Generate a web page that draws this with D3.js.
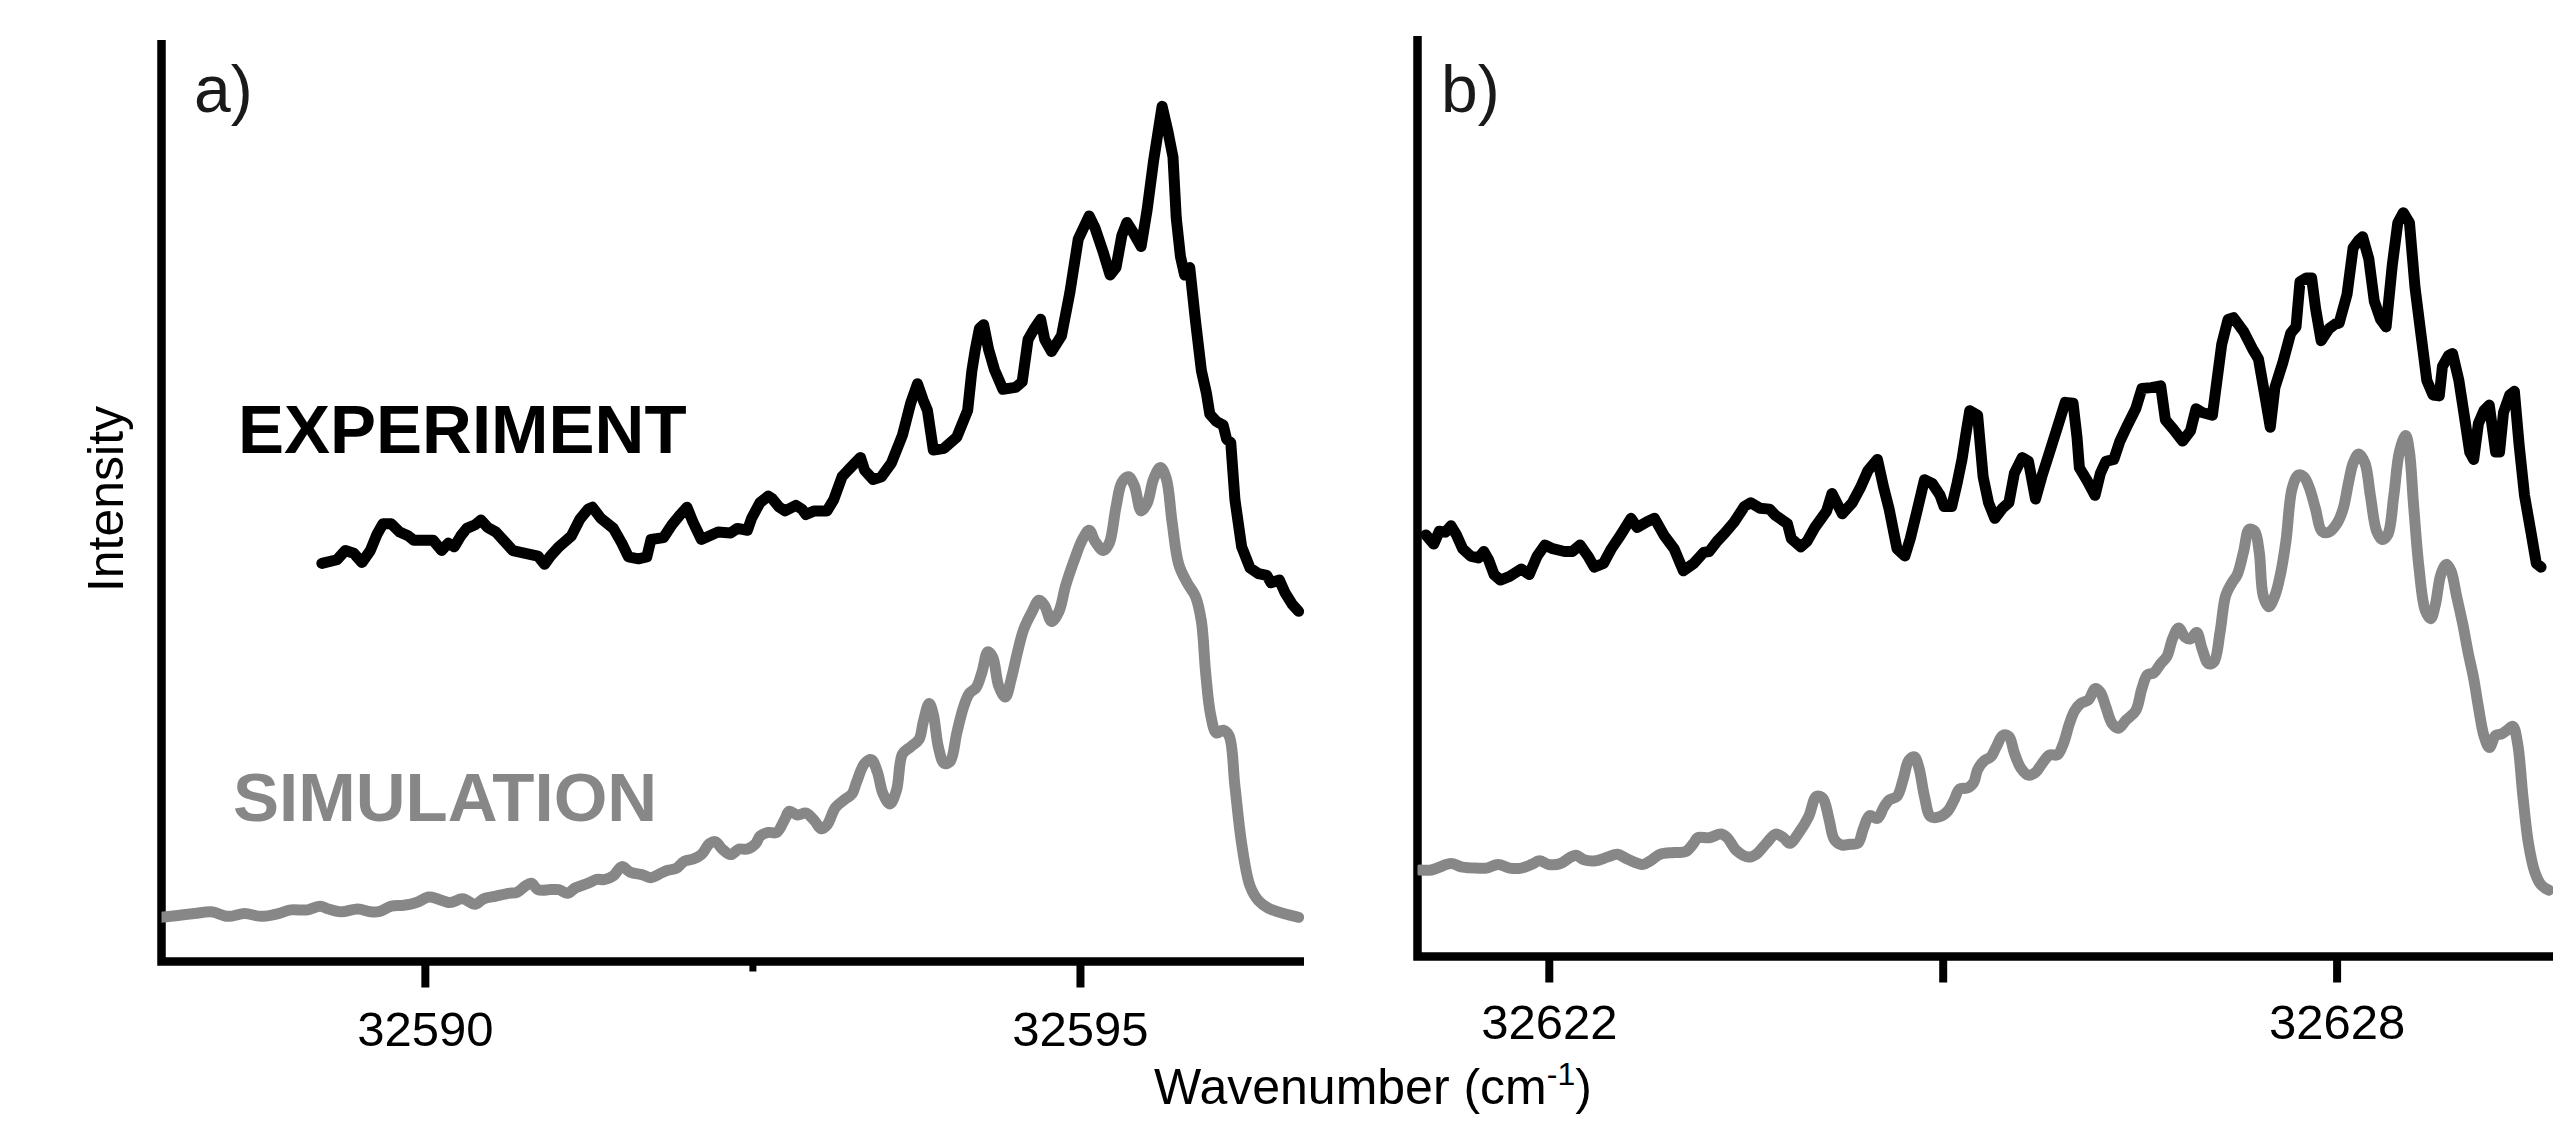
<!DOCTYPE html>
<html><head><meta charset="utf-8">
<script src="https://cdn.jsdelivr.net/npm/d3@7"></script>
<style>html,body{margin:0;padding:0;background:#fff;overflow:hidden}</style>
</head><body><svg id="c" width="2553" height="1121" style="background:#fff"></svg>
<script>
// ---- data: [wavenumber (cm-1), intensity (arb. units)] ----
const expA=[[32589.214,43.2],[32589.329,43.6],[32589.393,44.6],[32589.457,44.3],[32589.520,43.3],[32589.584,44.6],[32589.636,46.4],[32589.680,47.5],[32589.744,47.5],[32589.808,46.6],[32589.872,46.2],[32589.917,45.7],[32590.000,45.7],[32590.064,45.7],[32590.128,44.6],[32590.179,45.4],[32590.224,45.0],[32590.275,46.2],[32590.320,47.0],[32590.384,47.4],[32590.428,47.9],[32590.480,47.1],[32590.543,46.6],[32590.607,45.6],[32590.671,44.6],[32590.767,44.3],[32590.863,44.0],[32590.914,43.1],[32590.959,44.0],[32591.023,45.0],[32591.119,46.2],[32591.183,48.0],[32591.247,49.1],[32591.279,49.3],[32591.343,48.1],[32591.439,47.0],[32591.503,45.4],[32591.554,43.9],[32591.630,43.7],[32591.694,43.9],[32591.726,45.8],[32591.822,46.0],[32591.886,47.4],[32591.950,48.5],[32592.001,49.3],[32592.046,47.7],[32592.110,45.8],[32592.174,46.2],[32592.238,46.6],[32592.334,46.5],[32592.385,47.0],[32592.462,46.8],[32592.494,48.1],[32592.558,49.8],[32592.621,50.5],[32592.653,50.2],[32592.705,49.3],[32592.749,48.9],[32592.832,49.5],[32592.877,49.1],[32592.909,48.5],[32592.973,48.9],[32593.069,48.9],[32593.120,50.1],[32593.184,52.6],[32593.229,53.3],[32593.325,54.7],[32593.357,53.3],[32593.421,52.3],[32593.485,52.6],[32593.561,54.1],[32593.645,57.1],[32593.708,60.6],[32593.760,62.7],[32593.804,60.9],[32593.836,59.8],[32593.881,55.5],[32593.964,55.7],[32594.060,56.9],[32594.143,59.8],[32594.175,64.1],[32594.201,66.4],[32594.233,68.7],[32594.265,69.1],[32594.303,66.4],[32594.348,64.2],[32594.412,62.1],[32594.508,62.3],[32594.559,62.9],[32594.604,67.5],[32594.648,68.6],[32594.700,69.7],[32594.731,67.5],[32594.783,66.2],[32594.859,67.9],[32594.923,72.6],[32594.987,78.4],[32595.070,80.9],[32595.115,79.6],[32595.179,76.9],[32595.230,74.5],[32595.275,75.3],[32595.320,78.8],[32595.358,80.2],[32595.403,79.2],[32595.467,77.6],[32595.512,81.5],[32595.563,87.0],[32595.627,92.8],[32595.671,90.1],[32595.710,87.3],[32595.735,80.7],[32595.767,76.5],[32595.799,74.5],[32595.838,75.3],[32595.882,69.5],[32595.927,64.1],[32595.965,61.7],[32595.991,59.4],[32596.042,58.6],[32596.093,58.2],[32596.119,56.7],[32596.151,56.3],[32596.183,50.1],[32596.234,45.0],[32596.298,42.7],[32596.362,42.1],[32596.426,41.9],[32596.458,41.1],[32596.522,41.4],[32596.566,40.0],[32596.618,38.8],[32596.669,38.0]];
const simA=[[32587.986,4.8],[32588.114,5.0],[32588.242,5.2],[32588.370,5.4],[32588.497,4.9],[32588.625,5.2],[32588.753,4.9],[32588.881,5.2],[32588.977,5.6],[32589.105,5.6],[32589.201,6.0],[32589.265,5.7],[32589.361,5.4],[32589.488,5.7],[32589.584,5.4],[32589.648,5.4],[32589.744,6.0],[32589.840,6.1],[32589.936,6.4],[32590.032,7.0],[32590.096,6.8],[32590.192,6.4],[32590.288,6.8],[32590.384,6.2],[32590.448,6.8],[32590.543,7.1],[32590.639,7.4],[32590.703,7.5],[32590.767,8.2],[32590.812,8.5],[32590.863,7.8],[32590.959,7.8],[32591.023,7.8],[32591.087,7.4],[32591.151,8.0],[32591.247,8.5],[32591.311,8.9],[32591.375,8.9],[32591.439,9.3],[32591.503,10.3],[32591.567,9.7],[32591.662,9.4],[32591.726,9.1],[32591.790,9.5],[32591.854,9.9],[32591.918,10.1],[32591.982,10.9],[32592.046,11.1],[32592.110,11.6],[32592.174,12.8],[32592.219,13.0],[32592.270,12.2],[32592.334,11.6],[32592.398,12.2],[32592.462,12.2],[32592.526,12.8],[32592.558,13.6],[32592.621,14.0],[32592.685,14.0],[32592.749,15.5],[32592.781,16.3],[32592.845,15.9],[32592.909,16.1],[32592.973,15.3],[32593.024,14.4],[32593.069,14.8],[32593.133,16.7],[32593.197,17.5],[32593.261,18.2],[32593.293,19.4],[32593.357,21.5],[32593.408,21.9],[32593.453,20.6],[32593.497,18.2],[32593.549,17.1],[32593.600,18.6],[32593.645,22.5],[32593.708,23.3],[32593.772,24.1],[32593.804,26.0],[32593.849,28.0],[32593.881,26.8],[32593.919,23.3],[32593.964,21.5],[32594.009,21.7],[32594.060,24.8],[32594.111,27.6],[32594.156,29.1],[32594.207,29.7],[32594.252,31.4],[32594.297,33.6],[32594.335,33.0],[32594.380,29.9],[32594.431,28.7],[32594.476,30.7],[32594.527,33.8],[32594.572,36.1],[32594.636,38.0],[32594.687,39.2],[32594.731,38.6],[32594.783,36.9],[32594.840,38.0],[32594.891,40.8],[32594.955,43.5],[32595.019,45.8],[32595.070,46.8],[32595.115,45.6],[32595.179,44.6],[32595.224,45.4],[32595.275,49.3],[32595.320,52.0],[32595.371,52.6],[32595.416,51.6],[32595.467,48.9],[32595.512,49.7],[32595.563,52.4],[32595.614,53.6],[32595.659,52.4],[32595.703,47.7],[32595.754,43.1],[32595.818,41.1],[32595.882,39.6],[32595.927,36.9],[32595.959,31.4],[32595.997,26.8],[32596.042,24.8],[32596.093,25.1],[32596.138,24.5],[32596.183,19.0],[32596.234,12.8],[32596.298,8.2],[32596.362,6.6],[32596.437,5.8],[32596.554,5.2],[32596.669,4.8]];
const expB=[[32621.064,45.8],[32621.124,44.8],[32621.166,46.2],[32621.213,46.1],[32621.255,46.8],[32621.297,45.8],[32621.344,44.3],[32621.404,43.5],[32621.464,43.3],[32621.505,44.0],[32621.541,43.1],[32621.583,41.5],[32621.631,40.9],[32621.702,41.3],[32621.791,42.1],[32621.851,41.5],[32621.911,43.5],[32621.970,44.7],[32622.030,44.3],[32622.119,44.0],[32622.179,44.0],[32622.238,44.7],[32622.298,43.5],[32622.346,42.3],[32622.417,42.7],[32622.477,44.3],[32622.548,45.8],[32622.626,47.6],[32622.673,46.6],[32622.745,47.2],[32622.805,47.6],[32622.876,45.8],[32622.954,44.3],[32623.025,41.9],[32623.103,42.7],[32623.180,43.9],[32623.222,44.0],[32623.281,45.1],[32623.341,46.0],[32623.412,47.2],[32623.490,48.9],[32623.538,49.3],[32623.609,48.7],[32623.681,48.6],[32623.728,47.9],[32623.818,47.0],[32623.847,45.4],[32623.919,44.5],[32623.967,45.1],[32624.026,46.6],[32624.116,48.4],[32624.157,50.3],[32624.235,48.1],[32624.312,49.3],[32624.372,50.9],[32624.431,52.8],[32624.503,54.0],[32624.551,50.9],[32624.592,48.6],[32624.652,44.3],[32624.712,43.5],[32624.753,45.4],[32624.801,48.2],[32624.861,51.8],[32624.920,51.4],[32624.980,50.1],[32625.010,48.9],[32625.069,48.9],[32625.111,51.5],[32625.147,54.0],[32625.176,56.7],[32625.206,59.3],[32625.266,58.8],[32625.308,52.1],[32625.349,49.3],[32625.397,47.6],[32625.456,48.7],[32625.504,49.3],[32625.546,52.5],[32625.605,54.2],[32625.653,53.8],[32625.707,49.7],[32625.754,52.1],[32625.814,54.8],[32625.874,57.5],[32625.933,60.2],[32625.993,60.1],[32626.023,56.4],[32626.041,53.1],[32626.100,51.7],[32626.160,50.1],[32626.201,52.5],[32626.243,53.8],[32626.303,54.0],[32626.350,56.0],[32626.410,57.8],[32626.470,59.5],[32626.517,61.7],[32626.589,61.8],[32626.660,62.0],[32626.696,58.3],[32626.756,57.3],[32626.827,56.0],[32626.887,57.1],[32626.929,59.5],[32626.976,59.1],[32627.054,58.8],[32627.125,66.5],[32627.173,69.2],[32627.215,69.4],[32627.292,67.9],[32627.364,65.9],[32627.405,64.9],[32627.453,61.0],[32627.495,57.5],[32627.530,61.8],[32627.590,64.5],[32627.650,67.7],[32627.691,68.4],[32627.721,73.3],[32627.769,73.7],[32627.810,73.7],[32627.840,70.4],[32627.882,66.9],[32627.942,68.2],[32627.989,68.7],[32628.019,68.8],[32628.079,71.9],[32628.126,77.0],[32628.168,77.8],[32628.198,78.2],[32628.245,75.8],[32628.287,71.2],[32628.335,69.2],[32628.377,68.4],[32628.424,75.1],[32628.466,79.7],[32628.508,80.8],[32628.555,79.7],[32628.597,72.7],[32628.645,67.3],[32628.687,62.6],[32628.734,61.0],[32628.782,60.9],[32628.806,64.1],[32628.853,65.3],[32628.883,65.5],[32628.931,62.6],[32628.973,58.7],[32629.014,54.8],[32629.044,54.0],[32629.080,57.9],[32629.122,59.3],[32629.163,59.9],[32629.211,54.8],[32629.241,54.8],[32629.271,59.1],[32629.318,61.0],[32629.354,61.4],[32629.390,55.6],[32629.431,50.1],[32629.479,46.2],[32629.521,42.7],[32629.557,42.3]];
const simB=[[32621.017,9.4],[32621.106,9.4],[32621.166,9.7],[32621.255,10.1],[32621.344,9.7],[32621.464,9.6],[32621.523,9.6],[32621.613,10.0],[32621.702,9.6],[32621.791,9.6],[32621.869,10.0],[32621.928,10.4],[32622.000,10.0],[32622.089,10.1],[32622.167,10.8],[32622.209,11.0],[32622.268,10.5],[32622.358,10.4],[32622.447,10.8],[32622.524,11.1],[32622.596,10.6],[32622.715,10.0],[32622.775,10.4],[32622.846,11.1],[32622.954,11.3],[32623.043,11.4],[32623.103,12.3],[32623.132,12.9],[32623.222,12.9],[32623.311,13.3],[32623.359,12.9],[32623.430,11.5],[32623.520,10.8],[32623.579,11.1],[32623.657,12.3],[32623.728,13.3],[32623.788,12.9],[32623.836,12.3],[32623.907,13.5],[32623.979,15.2],[32624.038,17.4],[32624.086,17.2],[32624.133,15.0],[32624.175,12.7],[32624.235,12.1],[32624.294,12.2],[32624.354,12.3],[32624.396,13.9],[32624.443,15.3],[32624.503,15.0],[32624.551,16.2],[32624.592,17.0],[32624.652,17.4],[32624.700,19.3],[32624.741,21.3],[32624.783,21.7],[32624.819,20.5],[32624.861,17.4],[32624.908,15.2],[32624.980,15.2],[32625.039,15.8],[32625.087,17.0],[32625.129,18.2],[32625.188,18.3],[32625.236,18.9],[32625.266,20.3],[32625.319,21.3],[32625.367,21.7],[32625.409,22.8],[32625.456,24.0],[32625.504,23.9],[32625.546,22.1],[32625.594,20.5],[32625.653,19.7],[32625.707,20.0],[32625.754,20.9],[32625.814,21.9],[32625.874,21.9],[32625.921,23.2],[32625.963,25.2],[32626.005,26.7],[32626.052,27.5],[32626.112,27.9],[32626.160,29.1],[32626.201,28.7],[32626.243,27.1],[32626.291,25.3],[32626.338,24.8],[32626.398,25.7],[32626.470,26.7],[32626.517,29.1],[32626.559,30.6],[32626.607,30.8],[32626.660,31.8],[32626.708,32.6],[32626.750,34.5],[32626.797,35.7],[32626.845,34.7],[32626.887,34.5],[32626.934,35.2],[32626.976,33.4],[32627.024,31.8],[32627.066,32.0],[32627.113,35.3],[32627.155,39.2],[32627.203,40.6],[32627.244,41.5],[32627.292,44.0],[32627.334,46.4],[32627.376,46.2],[32627.411,43.9],[32627.441,39.2],[32627.483,38.0],[32627.530,39.2],[32627.572,41.5],[32627.614,45.1],[32627.662,50.9],[32627.709,52.3],[32627.751,52.1],[32627.793,50.9],[32627.840,48.6],[32627.888,46.2],[32627.942,46.1],[32628.001,47.0],[32628.049,48.6],[32628.091,51.5],[32628.126,53.6],[32628.168,54.6],[32628.216,53.6],[32628.257,50.1],[32628.305,46.2],[32628.347,45.3],[32628.389,45.8],[32628.436,50.1],[32628.478,54.8],[32628.526,56.6],[32628.555,54.8],[32628.585,49.3],[32628.627,42.3],[32628.675,37.6],[32628.716,36.7],[32628.752,38.2],[32628.794,41.5],[32628.836,42.6],[32628.871,41.9],[32628.913,39.2],[32628.961,36.1],[32629.002,33.0],[32629.044,30.2],[32629.080,27.1],[32629.122,24.0],[32629.163,22.7],[32629.211,24.0],[32629.259,24.2],[32629.300,24.6],[32629.342,25.0],[32629.378,23.2],[32629.419,17.4],[32629.461,12.3],[32629.509,9.2],[32629.557,7.8],[32629.616,7.2]];

// ---- axes / labels ----
const domainA=[32587.99,32596.71];
const domainB=[32621.0,32630.0];
const majorTicksA=[32590,32595];
const minorTicksA=[32592.5];
const ticksB=[32622,32625,32628];
const labeledTicksB=[32622,32628];
const yDomain=[0,100];
const panelLabels=["a)","b)"];
const seriesNames=["EXPERIMENT","SIMULATION"];
const xTitle=["Wavenumber (cm","-1",")"];
const yTitle="Intensity";

const FONT="'Liberation Sans', Arial, Helvetica, sans-serif";
const EXP_COL="#000000", SIM_COL="#878787";
const svg=d3.select("#c");

const panels=[
  {exp:expA, sim:simA, x:d3.scaleLinear().domain(domainA).range([161.5,1304]),
   y:d3.scaleLinear().domain(yDomain).range([961.5,40]),
   ticks:majorTicksA, minor:minorTicksA, fmt:d=>d3.format("d")(d), pad:23.5, label:panelLabels[0], lx:194},
  {exp:expB, sim:simB, x:d3.scaleLinear().domain(domainB).range([1417.5,1417.5+9*131.3]),
   y:d3.scaleLinear().domain(yDomain).range([956.5,36]),
   ticks:ticksB, minor:[], fmt:d=>labeledTicksB.includes(d)?d3.format("d")(d):"", pad:22, label:panelLabels[1], lx:1441}
];

panels.forEach((p,i)=>{
  const g=svg.append("g");
  const [x0,x1]=p.x.range();
  const yb=p.y(0), yt=p.y(100);
  const ax=d3.axisBottom(p.x).tickValues(p.ticks).tickFormat(p.fmt).tickSize(26).tickPadding(p.pad);
  const ag=g.append("g").attr("transform",`translate(0,${yb})`).call(ax);
  ag.select(".domain").remove();
  ag.selectAll(".tick line").attr("stroke","#000").attr("stroke-width",8);
  ag.selectAll(".tick text").attr("font-family",FONT).attr("font-size",49).attr("fill","#000");
  if(p.minor.length){
    const mg=g.append("g").attr("transform",`translate(0,${yb})`)
      .call(d3.axisBottom(p.x).tickValues(p.minor).tickFormat("").tickSize(10));
    mg.select(".domain").remove();
    mg.selectAll(".tick line").attr("stroke","#000").attr("stroke-width",7);
  }
  g.append("path").attr("d",`M${x0},${yt}V${yb}H${x1}`).attr("fill","none")
    .attr("stroke","#000").attr("stroke-width",8.5).attr("stroke-linejoin","miter");
  const clipId="clip"+i;
  svg.append("clipPath").attr("id",clipId).append("rect")
    .attr("x",x0).attr("y",0).attr("width",Math.min(x1,2553)-x0+6).attr("height",yb);
  const lineExp=d3.line().x(d=>p.x(d[0])).y(d=>p.y(d[1]));
  const lineSim=d3.line().x(d=>p.x(d[0])).y(d=>p.y(d[1])).curve(d3.curveCatmullRom.alpha(0.5));
  g.append("path").datum(p.sim).attr("d",lineSim).attr("clip-path",`url(#${clipId})`)
    .attr("fill","none").attr("stroke",SIM_COL).attr("stroke-width",11)
    .attr("stroke-linejoin","round").attr("stroke-linecap","round");
  g.append("path").datum(p.exp).attr("d",lineExp).attr("clip-path",`url(#${clipId})`)
    .attr("fill","none").attr("stroke",EXP_COL).attr("stroke-width",11)
    .attr("stroke-linejoin","round").attr("stroke-linecap","round");
  g.append("text").attr("x",p.lx).attr("y",112).text(p.label)
    .attr("font-family",FONT).attr("font-size",66).attr("fill","#1a1a1a");
});

svg.append("text").attr("x",238).attr("y",453).text(seriesNames[0])
  .attr("font-family",FONT).attr("font-weight","bold").attr("font-size",69).attr("fill",EXP_COL);
svg.append("text").attr("x",233).attr("y",821).text(seriesNames[1])
  .attr("font-family",FONT).attr("font-weight","bold").attr("font-size",69).attr("fill",SIM_COL);

svg.append("text").attr("transform","translate(123,499) rotate(-90)").attr("text-anchor","middle")
  .attr("font-family",FONT).attr("font-size",50).attr("fill","#000").text(yTitle);
const xt=svg.append("text").attr("x",1373).attr("y",1104).attr("text-anchor","middle")
  .attr("font-family",FONT).attr("font-size",50).attr("fill","#000");
xt.append("tspan").text(xTitle[0]);
xt.append("tspan").attr("font-size",32).attr("dy",-19).text(xTitle[1]);
xt.append("tspan").attr("dy",19).text(xTitle[2]);
</script></body></html>
